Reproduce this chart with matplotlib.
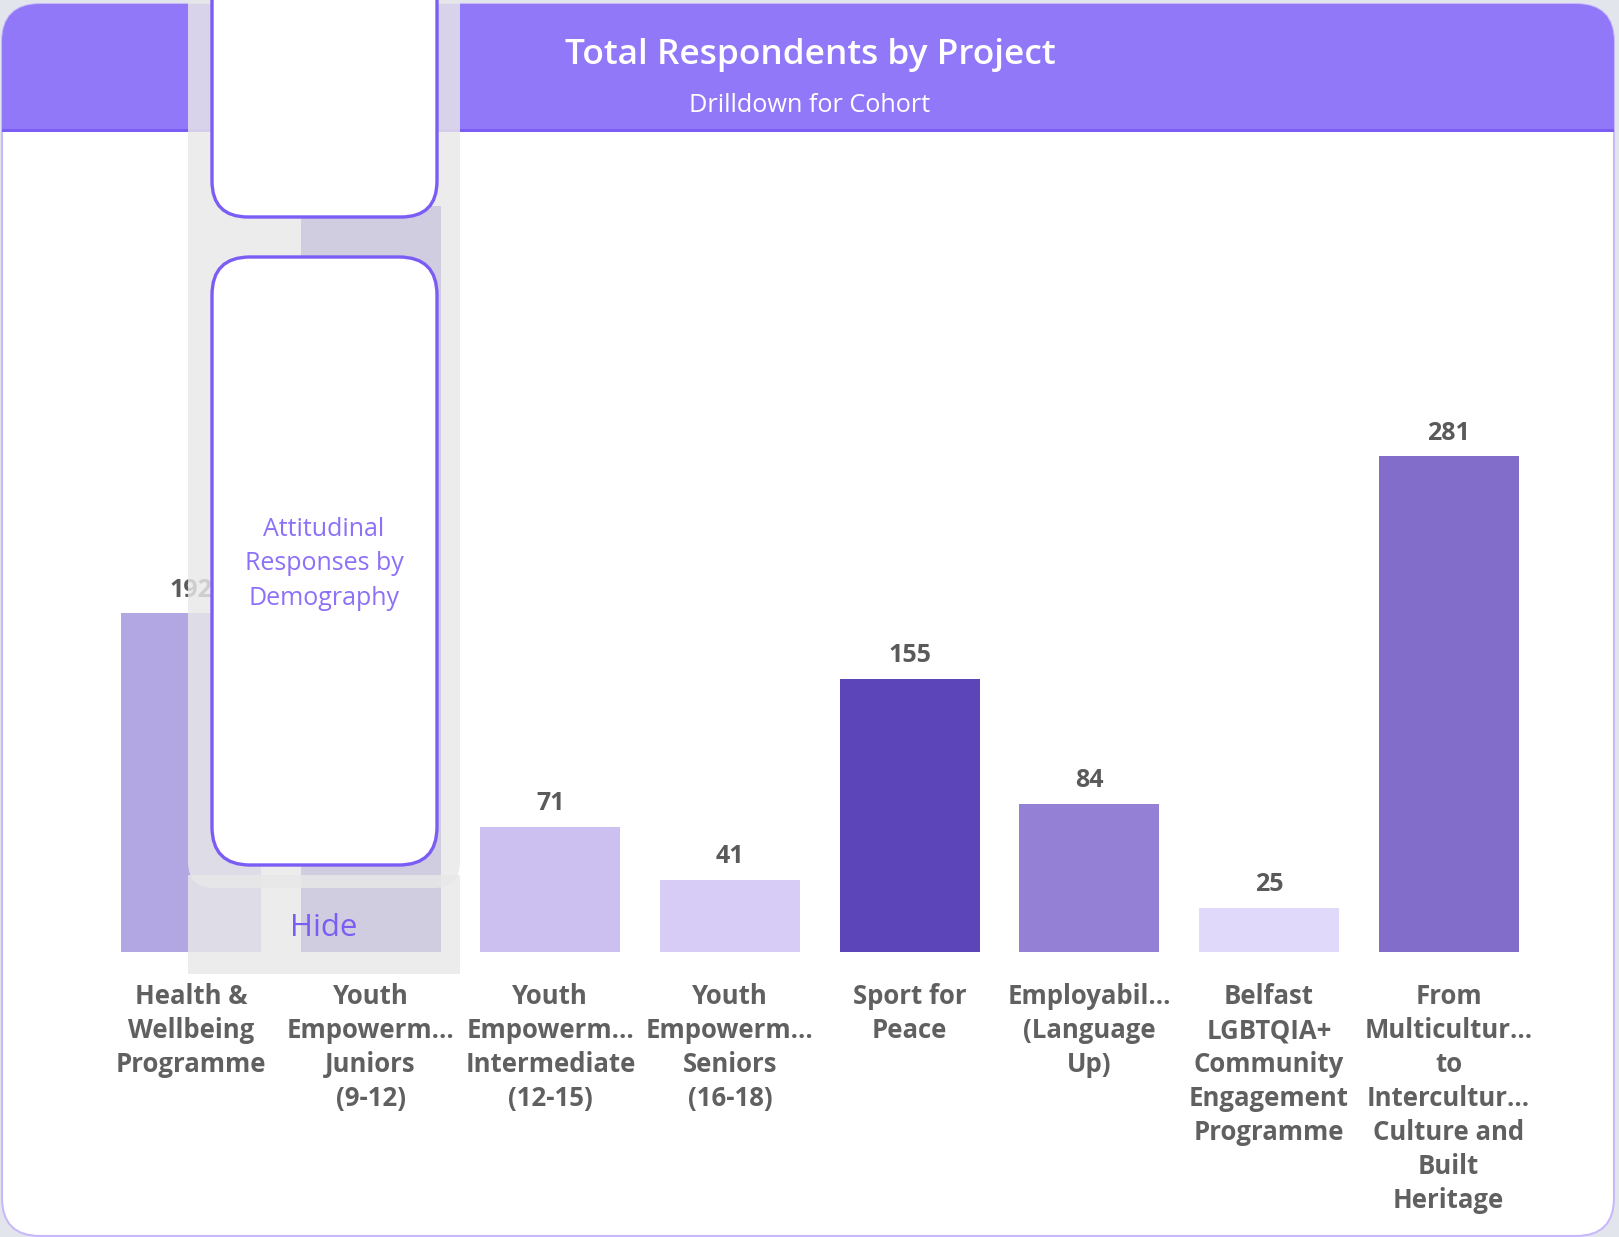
import matplotlib
matplotlib.use('Agg')
import matplotlib.pyplot as plt
from matplotlib.patches import FancyBboxPatch, Rectangle

plt.rcParams['font.family'] = ['Open Sans', 'DejaVu Sans']

# ── data ─────────────────────────────────────────────
projects = [
    'Health &\nWellbeing\nProgramme',
    'Youth\nEmpowerm...\nJuniors\n(9-12)',
    'Youth\nEmpowerm...\nIntermediate\n(12-15)',
    'Youth\nEmpowerm...\nSeniors\n(16-18)',
    'Sport for\nPeace',
    'Employabil...\n(Language\nUp)',
    'Belfast\nLGBTQIA+\nCommunity\nEngagement\nProgramme',
    'From\nMulticultur...\nto\nIntercultur...\nCulture and\nBuilt\nHeritage',
]
respondents = [192, 423, 71, 41, 155, 84, 25, 281]
bar_colors = ['#B3A7E3', '#6A55C4', '#CBC0F0', '#D6CCF5',
              '#5C45B8', '#9480D4', '#E0D9FA', '#826DCB']

W, H = 1619, 1237
fig = plt.figure(figsize=(W / 100, H / 100), dpi=100)

# ── background / card (pixel coords) ─────────────────
bg = fig.add_axes([0, 0, 1, 1], zorder=0)
bg.set_xlim(0, W)
bg.set_ylim(H, 0)
bg.axis('off')
bg.add_patch(Rectangle((0, 0), W, H, fc='#E2E6EC', ec='none'))
card = FancyBboxPatch((2, 4), 1612, 1232, boxstyle='round,pad=0,rounding_size=38',
                      fc='white', ec='#C9B9FB', lw=1.5)
bg.add_patch(card)
head = Rectangle((0, 0), W, 130, fc='#9178F8', ec='none')
bg.add_patch(head)
head.set_clip_path(card)
line = Rectangle((0, 129), W, 2.5, fc='#7B5CF5', ec='none')
bg.add_patch(line)
line.set_clip_path(card)
bg.text(810, 55, 'Total Respondents by Project', color='white', fontsize=25.4,
        fontweight='semibold', ha='center', va='center')
bg.text(810, 106, 'Drilldown for Cohort', color='white', fontsize=18.2,
        ha='center', va='center')

# ── bar chart ────────────────────────────────────────
ax = fig.add_axes([101.2 / W, (H - 952) / H, 1437.2 / W, 793.6 / H], zorder=1)
ax.patch.set_alpha(0)
x = range(len(projects))
bars = ax.bar(x, respondents, width=0.78, color=bar_colors)
for b, v in zip(bars, respondents):
    ax.annotate(str(v), (b.get_x() + b.get_width() / 2, v),
                textcoords='offset points', xytext=(0, 16.8),
                ha='center', va='center', fontsize=18, fontweight='bold',
                color='#5A5A5A')
ax.set_xlim(-0.5, 7.5)
ax.set_ylim(0, 450)
ax.set_yticks([])
ax.set_xticks(list(x))
ax.set_xticklabels(projects, fontsize=18.5, fontweight='bold', color='#606060')
for lbl in ax.get_xticklabels():
    lbl.set_linespacing(1.33)
ax.tick_params(axis='x', length=0, pad=22.5)
for s in ax.spines.values():
    s.set_visible(False)

# ── overlay panel ────────────────────────────────────
ov = fig.add_axes([0, 0, 1, 1], zorder=2)
ov.set_xlim(0, W)
ov.set_ylim(H, 0)
ov.axis('off')
ov.patch.set_alpha(0)
ov.add_patch(FancyBboxPatch((188, -40), 272, 928, boxstyle='round,pad=0,rounding_size=26',
                            fc='#E8E8E8', ec='none', alpha=0.82))
ov.add_patch(Rectangle((188, 875), 272, 99, fc='#E8E8E8', ec='none', alpha=0.82))
ov.add_patch(FancyBboxPatch((212, -60), 225, 277, boxstyle='round,pad=0,rounding_size=36',
                            fc='white', ec='#7B5CF5', lw=2.4))
ov.add_patch(FancyBboxPatch((212, 257), 225, 608, boxstyle='round,pad=0,rounding_size=38',
                            fc='white', ec='#7B5CF5', lw=2.4))
ov.text(324, 564, 'Attitudinal\nResponses by\nDemography', color='#8D70F7',
        fontsize=18, ha='center', va='center', linespacing=1.5)
ov.text(324, 928, 'Hide', color='#7B5CF5', fontsize=22.5, ha='center', va='center')

fig.savefig('out.png', dpi=100)
